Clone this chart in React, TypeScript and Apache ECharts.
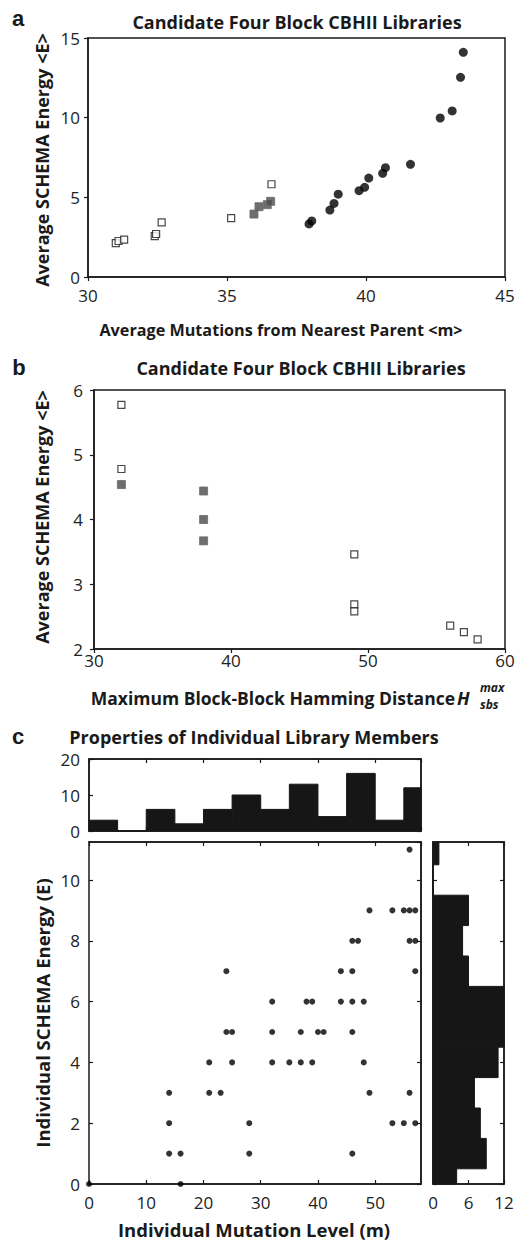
import React, { useEffect, useRef } from "react";
import * as echarts from "echarts";

const FONT = "'Open Sans', 'Noto Sans', sans-serif";
const INK = "#1a1a1a";

// ---- Panel a: average mutations vs average SCHEMA energy ----
const aOpenX = [31.0, 31.1, 31.3, 32.4, 32.45, 32.65, 35.15, 36.6];
const aOpenY = [2.13, 2.26, 2.34, 2.57, 2.7, 3.43, 3.7, 5.82];
const aFilledX = [35.97, 36.15, 36.45, 36.57];
const aFilledY = [3.95, 4.41, 4.54, 4.75];
const aCircleX = [37.95, 38.05, 38.7, 38.85, 39.0, 39.75, 39.95, 40.1, 40.6, 40.7, 41.6, 42.67, 43.1, 43.4, 43.5];
const aCircleY = [3.33, 3.52, 4.2, 4.62, 5.2, 5.42, 5.63, 6.21, 6.51, 6.86, 7.07, 9.98, 10.42, 12.53, 14.1];

// ---- Panel b: max block-block hamming distance vs average energy ----
const bOpenX = [32, 32, 49, 49, 49, 56, 57, 58];
const bOpenY = [5.77, 4.78, 3.46, 2.69, 2.58, 2.36, 2.26, 2.15];
const bFilledX = [32, 38, 38, 38];
const bFilledY = [4.54, 4.44, 4.0, 3.67];

// ---- Panel c: individual library members ----
const cM = [0, 14, 14, 14, 16, 16, 21, 21, 23, 24, 24, 25, 25, 28, 28, 32, 32, 32, 35, 37, 37, 38, 39, 39, 40, 41, 44, 44, 46, 47, 46, 46, 46, 46, 48, 48, 49, 49, 53, 53, 55, 56, 57, 56, 57, 57, 56, 56, 55, 57];
const cE = [0, 3, 2, 1, 1, 0, 4, 3, 3, 7, 5, 5, 4, 2, 1, 6, 5, 4, 4, 5, 4, 6, 6, 4, 5, 5, 7, 6, 8, 8, 7, 6, 5, 1, 6, 4, 9, 3, 9, 2, 9, 9, 9, 8, 8, 7, 11, 3, 2, 2];

// top histogram (mutation level), bins of width 5
const topBinStart = [0, 5, 10, 15, 20, 25, 30, 35, 40, 45, 50, 55];
const topBinWidth = 5;
const topCounts = [3, 0, 6, 2, 6, 10, 6, 13, 4, 16, 3, 12];

// right histogram (energy), bins centred on integers
const rightBinCenter = [0, 1, 2, 3, 4, 5, 6, 7, 8, 9, 10, 11];
const rightCounts = [4, 9, 8, 7, 11, 12, 12, 6, 5, 6, 0, 1];

const aTicksX = { min: 30, max: 45, interval: 5 };
const aTicksY = { min: 0, max: 15, interval: 5 };
const bTicksX = { min: 30, max: 60, interval: 10 };
const bTicksY = { min: 2, max: 6, interval: 1 };
const cTicksM = { min: 0, max: 58, interval: 10 };
const cTicksE = { min: 0, max: 11.25, interval: 2 };
const cTicksTop = { min: 0, max: 20, interval: 10 };
const cTicksRight = { min: 0, max: 12, interval: 6 };

function axis(gridIndex: number, t: any, o: any = {}) {
  return {
    type: "value",
    gridIndex,
    min: t.min,
    max: t.max,
    interval: t.interval,
    position: o.position,
    axisLine: { show: true, onZero: false, lineStyle: { color: o.lineColor || INK, width: 1.5 } },
    axisTick: { show: true, inside: !!o.inside, length: o.tickLen || 4, lineStyle: { color: INK, width: 1.2 } },
    axisLabel: {
      show: o.labels !== false,
      fontSize: 17,
      color: "#222",
      fontFamily: FONT,
      margin: o.margin ?? 6,
      showMaxLabel: o.showMax,
    },
    splitLine: { show: false },
  };
}

function gridBox(left: number, top: number, width: number, height: number) {
  return { left, top, width, height, show: true, borderColor: INK, borderWidth: 1.5, backgroundColor: "transparent", containLabel: false };
}

function txt(text: string, x: number, y: number, size: number, o: any = {}) {
  return {
    type: "text",
    x,
    y,
    rotation: o.rot || 0,
    style: {
      text,
      fill: o.color || INK,
      fontSize: size,
      fontWeight: o.weight || "bold",
      fontStyle: o.italic ? "italic" : "normal",
      fontFamily: o.family || FONT,
      align: o.align || "center",
      verticalAlign: "middle",
      textAlign: o.align || "center",
      textVerticalAlign: "middle",
    },
  };
}

const BAR = "#161616";

function histTop(params: any, api: any) {
  const x0 = api.value(0), x1 = api.value(1), c = api.value(2);
  const p0 = api.coord([x0, c]);
  const p1 = api.coord([x1, 0]);
  const cs = params.coordSys;
  const shape = echarts.graphic.clipRectByRect(
    { x: p0[0], y: p0[1], width: p1[0] - p0[0], height: p1[1] - p0[1] },
    { x: cs.x, y: cs.y, width: cs.width, height: cs.height }
  );
  return shape ? { type: "rect", shape, style: { fill: BAR, stroke: BAR, lineWidth: 1 } } : null;
}

function histRight(params: any, api: any) {
  const e0 = api.value(0), e1 = api.value(1), c = api.value(2);
  const p0 = api.coord([0, e1]);
  const p1 = api.coord([c, e0]);
  const cs = params.coordSys;
  const shape = echarts.graphic.clipRectByRect(
    { x: p0[0], y: p0[1], width: p1[0] - p0[0], height: p1[1] - p0[1] },
    { x: cs.x, y: cs.y, width: cs.width, height: cs.height }
  );
  return shape ? { type: "rect", shape, style: { fill: BAR, stroke: BAR, lineWidth: 1 } } : null;
}

const zip = (xs: number[], ys: number[]) => xs.map((x, i) => [x, ys[i]]);

export default function App() {
  const ref = useRef<HTMLDivElement>(null);
  useEffect(() => {
    document.body.style.margin = "0";
    const chart = echarts.init(ref.current!, null, { renderer: "svg" });
    const option: any = {
      animation: false,
      backgroundColor: "#ffffff",
      grid: [
        gridBox(88, 38, 417, 239),
        gridBox(94, 390, 411, 259),
        gridBox(89, 759, 332, 72),
        gridBox(89, 842, 332, 342),
        gridBox(433, 842, 71, 342),
      ],
      xAxis: [
        axis(0, aTicksX, { margin: 10 }),
        axis(1, bTicksX, { margin: 3 }),
        axis(2, cTicksM, { inside: true, labels: false }),
        axis(2, cTicksM, { inside: true, labels: false, position: "top" }),
        axis(3, cTicksM, { inside: true, margin: 10, showMax: false }),
        axis(3, cTicksM, { inside: true, labels: false, position: "top" }),
        axis(4, cTicksRight, { inside: true, margin: 10 }),
        axis(4, cTicksRight, { inside: true, labels: false, position: "top" }),
      ],
      yAxis: [
        axis(0, aTicksY, { margin: 8 }),
        axis(1, bTicksY, { margin: 11 }),
        axis(2, cTicksTop, { inside: true, margin: 9 }),
        axis(2, cTicksTop, { inside: true, labels: false, position: "right" }),
        axis(3, cTicksE, { inside: true, margin: 9, lineColor: "#555", showMax: false }),
        axis(3, cTicksE, { inside: true, labels: false, position: "right" }),
        axis(4, cTicksE, { inside: true, labels: false }),
        axis(4, cTicksE, { inside: true, labels: false, position: "right" }),
      ],
      series: [
        {
          type: "scatter", xAxisIndex: 0, yAxisIndex: 0, symbol: "rect", symbolSize: 7,
          itemStyle: { color: "#ffffff", borderColor: INK, borderWidth: 1.2 },
          data: zip(aOpenX, aOpenY),
        },
        {
          type: "scatter", xAxisIndex: 0, yAxisIndex: 0, symbol: "rect", symbolSize: 8,
          itemStyle: { color: "#4a4a4a", borderColor: "#6a6a6a", borderWidth: 1 },
          data: zip(aFilledX, aFilledY),
        },
        {
          type: "scatter", xAxisIndex: 0, yAxisIndex: 0, symbol: "circle", symbolSize: 9,
          itemStyle: { color: "#000000" },
          data: zip(aCircleX, aCircleY),
        },
        {
          type: "scatter", xAxisIndex: 1, yAxisIndex: 1, symbol: "rect", symbolSize: 7,
          itemStyle: { color: "#ffffff", borderColor: INK, borderWidth: 1.2 },
          data: zip(bOpenX, bOpenY),
        },
        {
          type: "scatter", xAxisIndex: 1, yAxisIndex: 1, symbol: "rect", symbolSize: 8,
          itemStyle: { color: "#4a4a4a", borderColor: "#6a6a6a", borderWidth: 1 },
          data: zip(bFilledX, bFilledY),
        },
        {
          type: "custom", xAxisIndex: 2, yAxisIndex: 2,
          renderItem: histTop,
          encode: { x: [0, 1], y: 2 },
          data: topBinStart.map((s, i) => [s, s + topBinWidth, topCounts[i]]),
        },
        {
          type: "scatter", xAxisIndex: 4, yAxisIndex: 4, symbol: "circle", symbolSize: 6,
          itemStyle: { color: "#000000" },
          data: zip(cM, cE),
        },
        {
          type: "custom", xAxisIndex: 6, yAxisIndex: 6,
          renderItem: histRight,
          encode: { x: 2, y: [0, 1] },
          data: rightBinCenter.map((e, i) => [e - 0.5, e + 0.5, rightCounts[i]]),
        },
      ],
      graphic: [
        txt("a", 18, 18, 22, { family: "'Liberation Sans', Arial, sans-serif" }),
        txt("b", 19, 367, 22, { family: "'Liberation Sans', Arial, sans-serif" }),
        txt("c", 18, 736, 22, { family: "'Liberation Sans', Arial, sans-serif" }),
        txt("Candidate Four Block CBHII Libraries", 297, 22, 18),
        txt("Average Mutations from Nearest Parent <m>", 281, 330, 16.2),
        txt("Average SCHEMA Energy <E>", 42, 160, 18, { rot: Math.PI / 2 }),
        txt("Candidate Four Block CBHII Libraries", 301, 368, 18),
        txt("Maximum Block-Block Hamming Distance", 455, 698, 17.5, { align: "right" }),
        txt("H", 457, 698, 18, { align: "left", italic: true }),
        txt("max", 480, 687, 12, { align: "left", italic: true }),
        txt("sbs", 480, 704, 12, { align: "left", italic: true }),
        txt("Average SCHEMA Energy <E>", 42, 517, 18, { rot: Math.PI / 2 }),
        txt("Properties of Individual Library Members", 254, 737, 18),
        txt("Individual Mutation Level (m)", 254, 1229, 18.5),
        txt("Individual SCHEMA Energy (E)", 42, 1013, 18.5, { rot: Math.PI / 2 }),
      ],
    };
    chart.setOption(option);
    return () => chart.dispose();
  }, []);
  return <div ref={ref} style={{ width: 518, height: 1240 }} />;
}
